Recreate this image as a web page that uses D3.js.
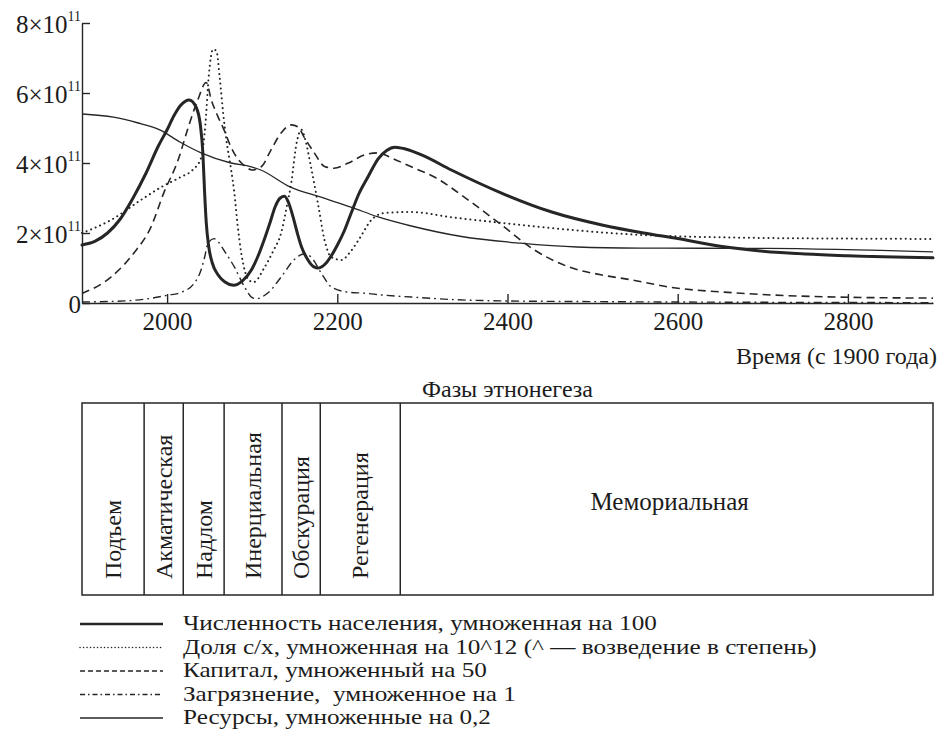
<!DOCTYPE html>
<html>
<head>
<meta charset="utf-8">
<script src="https://cdn.jsdelivr.net/npm/d3@7"></script>
<style>
  html, body { margin: 0; padding: 0; background: #fff; }
  svg text { font-family: "Liberation Serif", "Times New Roman", serif; fill: #1c1c1c; white-space: pre; }
</style>
</head>
<body>
<svg id="chart" width="940" height="729"></svg>
<script>
// Model output, values in units of 10^11, [year, value]
const population = [
  [1900,1.66],[1915,1.76],[1930,2.0],[1945,2.4],[1960,3.0],[1975,3.7],[1990,4.5],[2000,4.95],
  [2008,5.35],[2016,5.65],[2026,5.8],[2034,5.6],[2039,5.1],[2042,4.3],[2044,3.2],[2046,2.3],
  [2049,1.6],[2053,1.15],[2060,0.8],[2068,0.6],[2078,0.51],[2088,0.62],[2099,0.94],[2107,1.35],
  [2114,1.8],[2121,2.3],[2127,2.75],[2133,3.0],[2138,3.05],[2143,2.85],[2148,2.46],[2153,2.0],
  [2158,1.6],[2165,1.25],[2172,1.04],[2178,1.0],[2186,1.12],[2193,1.35],[2200,1.65],[2208,2.05],
  [2216,2.55],[2225,3.1],[2236,3.6],[2248,4.12],[2258,4.36],[2268,4.45],[2280,4.4],[2299,4.23],
  [2334,3.8],[2393,3.14],[2452,2.6],[2511,2.23],[2560,2.0],[2600,1.84],[2650,1.62],[2700,1.48],
  [2750,1.4],[2800,1.35],[2900,1.29]
];
const agriShare = [
  [1900,2.0],[1934,2.37],[1969,2.94],[1993,3.31],[2016,3.6],[2030,3.8],[2040,4.15],[2045,5.1],
  [2049,6.5],[2054,7.25],[2058,7.2],[2062,6.4],[2066,5.4],[2070,4.6],[2075,3.85],[2079,3.15],
  [2083,2.2],[2087,1.45],[2091,0.95],[2096,0.65],[2102,0.6],[2114,1.0],[2125,1.5],[2134,2.0],
  [2141,2.8],[2146,3.45],[2152,4.55],[2158,4.95],[2163,4.6],[2169,3.9],[2178,2.74],[2185,1.8],
  [2193,1.31],[2205,1.23],[2215,1.45],[2225,1.8],[2240,2.37],[2255,2.57],[2287,2.6],[2334,2.45],
  [2393,2.29],[2452,2.14],[2546,1.96],[2667,1.87],[2800,1.84],[2900,1.83]
];
const capital = [
  [1900,0.27],[1934,0.74],[1961,1.43],[1981,2.17],[1996,3.14],[2013,4.09],[2025,5.03],[2036,5.8],
  [2046,6.3],[2052,5.8],[2060,5.31],[2067,4.94],[2075,4.46],[2083,4.12],[2092,3.9],[2100,3.8],
  [2111,3.9],[2122,4.37],[2134,4.86],[2146,5.09],[2154,5.03],[2161,4.74],[2173,4.29],[2185,3.9],
  [2196,3.85],[2213,4.0],[2232,4.23],[2248,4.29],[2264,4.14],[2287,3.89],[2314,3.6],[2354,2.94],
  [2393,2.23],[2432,1.51],[2472,1.03],[2511,0.8],[2546,0.66],[2589,0.46],[2667,0.29],[2785,0.17],
  [2900,0.14]
];
const pollution = [
  [1900,0.03],[1950,0.06],[1980,0.13],[2000,0.22],[2016,0.3],[2032,0.57],[2040,0.95],[2044,1.3],
  [2048,1.7],[2055,1.84],[2061,1.72],[2067,1.5],[2079,1.03],[2091,0.46],[2099,0.17],[2105,0.12],
  [2112,0.18],[2119,0.3],[2134,0.74],[2149,1.23],[2161,1.4],[2169,1.32],[2181,0.86],[2193,0.46],
  [2213,0.31],[2232,0.28],[2252,0.23],[2287,0.17],[2334,0.1],[2393,0.06],[2500,0.04],[2700,0.02],
  [2900,0.01]
];
const resources = [
  [1900,5.4],[1937,5.31],[1965,5.15],[1992,4.94],[2015,4.6],[2040,4.29],[2075,4.0],[2099,3.89],
  [2110,3.8],[2145,3.31],[2180,3.03],[2216,2.74],[2248,2.46],[2287,2.2],[2346,1.9],[2415,1.71],
  [2482,1.6],[2556,1.57],[2705,1.56],[2900,1.46]
];

const xTicks = [2000, 2200, 2400, 2600, 2800];
const yTicks = [0, 2, 4, 6, 8];
const yTickBase = ["0", "2×10", "4×10", "6×10", "8×10"];
const yTickExp = ["", "11", "11", "11", "11"];
const xTitle = "Время (с 1900 года)";

const phaseTitle = "Фазы этнонегеза";
const phaseNames = ["Подъем", "Акматическая", "Надлом", "Инерциальная", "Обскурация", "Регенерация", "Мемориальная"];
const phaseBounds = [1900, 1973, 2019, 2067, 2135, 2180, 2274, 2900];

const legendLabels = [
  "Численность населения, умноженная на 100",
  "Доля с/х, умноженная на 10^12 (^ — возведение в степень)",
  "Капитал, умноженный на 50",
  "Загрязнение,  умноженное на 1",
  "Ресурсы, умноженные на 0,2"
];

// line styles for the five series
const ink = "#262626";
const styles = [
  { width: 3.0, dash: null, cap: "round" },
  { width: 2.0, dash: "0.1,4.8", cap: "round" },
  { width: 1.6, dash: "8,5", cap: "butt" },
  { width: 1.4, dash: "8,4,1.8,4", cap: "butt" },
  { width: 1.3, dash: null, cap: "butt" }
];
const legendDash = [null, "0.1,3.4", "5,3", "5,3,1.5,3", null];
const seriesList = [population, agriShare, capital, pollution, resources];

const svg = d3.select("#chart");
const x = d3.scaleLinear().domain([1900, 2900]).range([82, 933]);
const y = d3.scaleLinear().domain([0, 8]).range([303, 23]);

// axes
const xAxis = svg.append("g")
  .attr("transform", `translate(0,${y(0)})`)
  .call(d3.axisBottom(x).tickValues(xTicks).tickFormat(d3.format("d"))
    .tickSizeInner(-9).tickSizeOuter(0).tickPadding(9));
xAxis.selectAll("text").attr("font-size", 25).attr("font-family", null);

const yAxis = svg.append("g")
  .attr("transform", `translate(${x(1900)},0)`)
  .call(d3.axisLeft(y).tickValues(yTicks).tickFormat((d, i) => yTickBase[i])
    .tickSizeInner(-8).tickSizeOuter(0).tickPadding(1));
yAxis.selectAll("text")
  .attr("font-size", 25).attr("font-family", null).attr("dy", 9)
  .each(function(d, i) {
    if (yTickExp[i]) {
      d3.select(this).append("tspan").attr("dy", -12).attr("font-size", 14).text(yTickExp[i]);
    }
  });
svg.selectAll(".domain, .tick line").attr("stroke", ink).attr("stroke-width", 1.4);

svg.append("text")
  .attr("x", 937).attr("y", 364).attr("text-anchor", "end").attr("font-size", 24)
  .text(xTitle);

// series curves
const line = d3.line().x(d => x(d[0])).y(d => y(d[1])).curve(d3.curveMonotoneX);
seriesList.forEach((s, i) => {
  svg.append("path")
    .attr("d", line(s))
    .attr("fill", "none")
    .attr("stroke", ink)
    .attr("stroke-width", styles[i].width)
    .attr("stroke-linecap", styles[i].cap)
    .attr("stroke-dasharray", styles[i].dash);
});

// phases of ethnogenesis
const boxTop = 403, boxBottom = 595;
svg.append("text")
  .attr("x", (x(1900) + x(2900)) / 2).attr("y", 397)
  .attr("text-anchor", "middle").attr("font-size", 24)
  .text(phaseTitle);
svg.append("rect")
  .attr("x", x(1900)).attr("y", boxTop)
  .attr("width", x(2900) - x(1900)).attr("height", boxBottom - boxTop)
  .attr("fill", "none").attr("stroke", ink).attr("stroke-width", 1.5);
phaseBounds.slice(1, -1).forEach(b => {
  svg.append("line")
    .attr("x1", x(b)).attr("x2", x(b)).attr("y1", boxTop).attr("y2", boxBottom)
    .attr("stroke", ink).attr("stroke-width", 1.5);
});
phaseNames.forEach((name, i) => {
  const cx = (x(phaseBounds[i]) + x(phaseBounds[i + 1])) / 2;
  if (i < phaseNames.length - 1) {
    svg.append("text")
      .attr("transform", `translate(${cx},579) rotate(-90)`)
      .attr("dy", "0.33em").attr("font-size", 24)
      .text(name);
  } else {
    svg.append("text")
      .attr("x", cx + 3).attr("y", 510).attr("text-anchor", "middle").attr("font-size", 25)
      .text(name);
  }
});

// legend
legendLabels.forEach((label, i) => {
  const by = 630 + i * 23.5;
  svg.append("line")
    .attr("x1", 80).attr("x2", 163).attr("y1", by - 6).attr("y2", by - 6)
    .attr("stroke", ink)
    .attr("stroke-width", i === 0 ? 2.6 : Math.min(styles[i].width, 1.5))
    .attr("stroke-linecap", i === 1 ? "round" : "butt")
    .attr("stroke-dasharray", legendDash[i]);
  svg.append("text")
    .attr("transform", `translate(183,${by}) scale(1.2,1)`)
    .attr("font-size", 21)
    .text(label);
});
</script>
</body>
</html>
